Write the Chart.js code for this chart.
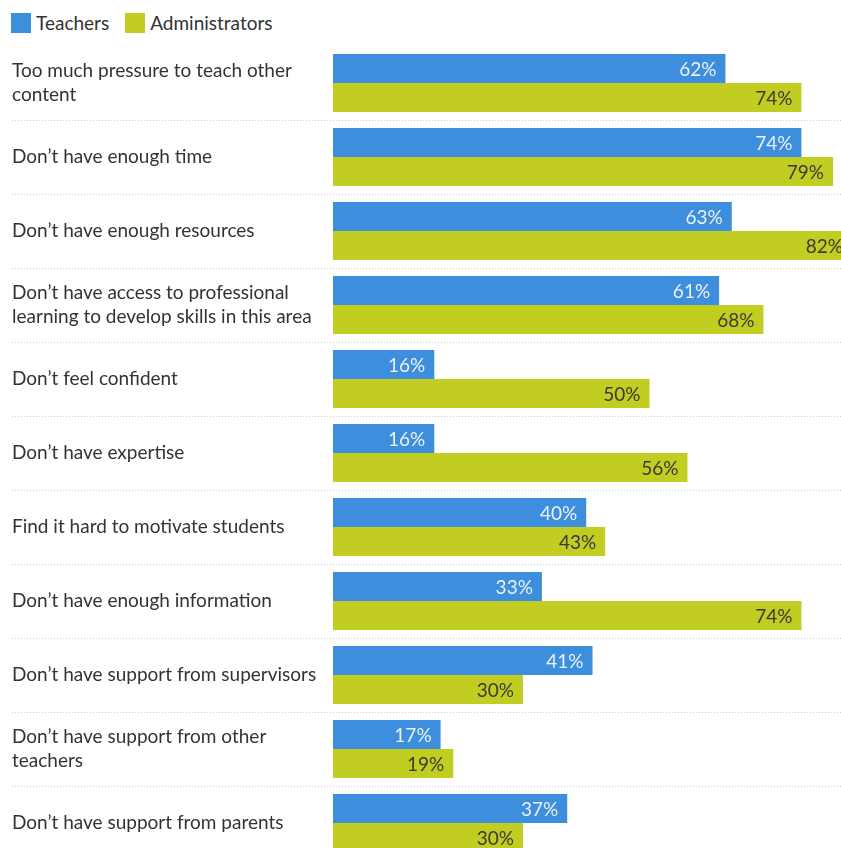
<!doctype html>
<html lang="en">
<head>
<meta charset="utf-8">
<title>Barriers: teachers vs administrators</title>
<script src="https://cdn.jsdelivr.net/npm/chart.js@4.4.1/dist/chart.umd.min.js"></script>
<style>
  body { margin: 0; overflow: hidden; background: #fff; font-family: Lato, sans-serif; }
  #wrap { position: relative; width: 841px; height: 848px; overflow: hidden; }
  #legend { position: absolute; left: 11px; top: 13px; display: flex; font-size: 19px; color: #333; line-height: 20px; }
  #legend .item { display: flex; align-items: center; margin-right: 16px; }
  #legend .box { display: inline-block; width: 20px; height: 20px; margin-right: 5px; }
  canvas { position: absolute; left: 0; top: 0; }
</style>
</head>
<body>
<div id="wrap">
  <div id="legend">
    <div class="item"><span class="box" style="background:#3d8edc"></span>Teachers</div>
    <div class="item"><span class="box" style="background:#c2cd22"></span>Administrators</div>
  </div>
  <canvas id="chart" width="966" height="860"></canvas>
</div>
<script>
var categories = [
  ["Too much pressure to teach other", "content"],
  "Don’t have enough time",
  "Don’t have enough resources",
  ["Don’t have access to professional", "learning to develop skills in this area"],
  "Don’t feel confident",
  "Don’t have expertise",
  "Find it hard to motivate students",
  "Don’t have enough information",
  "Don’t have support from supervisors",
  ["Don’t have support from other", "teachers"],
  "Don’t have support from parents"
];
var teachers = [62, 74, 63, 61, 16, 16, 40, 33, 41, 17, 37];
var administrators = [74, 79, 82, 68, 50, 56, 43, 74, 30, 19, 30];

// dotted separators under each row, running across the label column too
var rowLines = {
  id: 'rowLines',
  beforeDatasetsDraw: function(chart) {
    var y = chart.scales.y, ctx = chart.ctx;
    ctx.save();
    ctx.strokeStyle = '#cccccc';
    ctx.lineWidth = 1;
    ctx.setLineDash([1, 2]);
    for (var i = 0; i < categories.length; i++) {
      var py = Math.round(y.getPixelForValue(i + 0.5)) + 0.5;
      ctx.beginPath();
      ctx.moveTo(12, py);
      ctx.lineTo(chart.width, py);
      ctx.stroke();
    }
    ctx.restore();
  }
};

// percentage written inside the end of each bar
var valueLabels = {
  id: 'valueLabels',
  afterDatasetsDraw: function(chart) {
    var ctx = chart.ctx;
    ctx.save();
    ctx.font = '19px Lato';
    ctx.textAlign = 'right';
    ctx.textBaseline = 'middle';
    chart.data.datasets.forEach(function(ds, i) {
      ctx.fillStyle = ds.labelColor;
      chart.getDatasetMeta(i).data.forEach(function(bar, j) {
        ctx.fillText(ds.data[j] + '%', bar.x - 9, bar.y + 1);
      });
    });
    ctx.restore();
  }
};

new Chart(document.getElementById('chart'), {
  type: 'bar',
  data: {
    labels: categories,
    datasets: [{
      label: 'Teachers',
      data: teachers,
      backgroundColor: '#3d8edc',
      labelColor: '#eaf2fb'
    }, {
      label: 'Administrators',
      data: administrators,
      backgroundColor: '#c2cd22',
      labelColor: '#3a3a32'
    }]
  },
  options: {
    indexAxis: 'y',
    responsive: false,
    animation: false,
    categoryPercentage: 0.784,
    barPercentage: 1,
    layout: { padding: { top: 46, left: 12, right: 0, bottom: 0 } },
    plugins: {
      legend: { display: false },
      tooltip: { enabled: false }
    },
    scales: {
      x: { display: false, min: 0, max: 100 },
      y: {
        grid: { display: false },
        border: { display: false },
        ticks: {
          autoSkip: false,
          crossAlign: 'far',
          padding: 0,
          color: '#333',
          font: { family: 'Lato', size: 19, lineHeight: 1.26 }
        },
        afterFit: function(scale) {
          scale.width = 321;
          scale.paddingTop = 0;
          scale.paddingBottom = 0;
        }
      }
    }
  },
  plugins: [rowLines, valueLabels]
});
</script>
</body>
</html>
